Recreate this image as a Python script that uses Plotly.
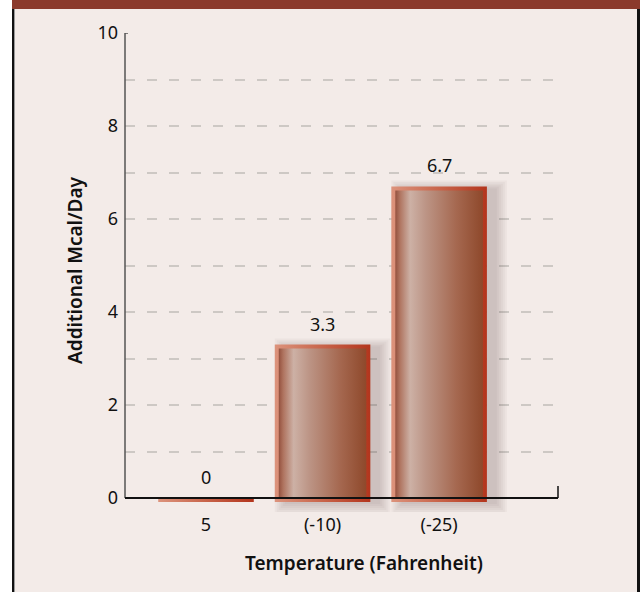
import plotly.graph_objects as go

# ---- data ----
categories = ["5", "(-10)", "(-25)"]
values = [0, 3.3, 6.7]
value_labels = ["0", "3.3", "6.7"]
y_tick_values = [0, 1, 2, 3, 4, 5, 6, 7, 8, 9, 10]
y_tick_labels = ["0", "", "2", "", "4", "", "6", "", "8", "", "10"]
x_title = "Temperature (Fahrenheit)"
y_title = "Additional Mcal/Day"

# ---- layout geometry ----
W, H = 640, 592
ML, MR, MT = 125, 82, 33
X_RANGE = [-0.695, 3.02]
Y_RANGE = [-0.3, 10]
PLOT_W = W - ML - MR
PX_X = PLOT_W / (X_RANGE[1] - X_RANGE[0])
PX_Y = 46.5
PLOT_H = PX_Y * (Y_RANGE[1] - Y_RANGE[0])
MB = H - MT - PLOT_H
BOTTOM = MT + PLOT_H

FONT = "Noto Sans"
BG = "#f3ebe8"
TXT = "#111111"


def px2paper_x(px):
    return (px - ML) / PLOT_W


def px2paper_y(py):
    return (BOTTOM - py) / PLOT_H


HW = 0.41                 # half bar width (data units)
INS_X = 4 / PX_X          # border inset
INS_Y = 4 / PX_Y

border_scale = [[0, "#dc937c"], [0.5, "#c8644a"], [1, "#b3351d"]]
inner_scale = [[0, "rgba(140,74,56,0.9)"], [0.05, "rgba(170,112,92,0.9)"],
               [0.17, "rgba(204,182,172,0.9)"], [0.35, "rgba(186,152,138,0.9)"],
               [0.7, "rgba(162,106,82,0.9)"], [1, "rgba(139,74,44,0.92)"]]

fig = go.Figure()


def rect(x0, x1, y0, y1):
    return [x0, x1, x1, x0, x0], [y0, y0, y1, y1, y0]

# shadows (offset to the right)
for i, v in enumerate(values):
    if v <= 0:
        continue
    ox, oy = 10 / PX_X, -2 / PX_Y
    for e in [0, 2, 4, 6, 8, 10]:
        ex, ey = e / PX_X, e / PX_Y
        xs, ys = rect(i - HW + ox - ex, i + HW + ox + ex, -INS_Y + oy - ey, v + oy + ey * 0.8)
        fig.add_trace(go.Scatter(x=xs, y=ys, fill="toself", mode="lines",
                                 line=dict(width=0), fillcolor="rgba(70,55,50,0.04)",
                                 hoverinfo="skip", showlegend=False))

# bars: border + inner gradient
for i, v in enumerate(values):
    xs, ys = rect(i - HW, i + HW, -INS_Y, v)
    fig.add_trace(go.Scatter(x=xs, y=ys, fill="toself", mode="lines",
                             line=dict(width=0),
                             fillgradient=dict(type="horizontal", colorscale=border_scale),
                             hoverinfo="skip", showlegend=False))
    if v > INS_Y:
        xs, ys = rect(i - HW + INS_X, i + HW - INS_X, 0, v - INS_Y)
        fig.add_trace(go.Scatter(x=xs, y=ys, fill="toself", mode="lines",
                                 line=dict(width=0),
                                 fillgradient=dict(type="horizontal", colorscale=inner_scale),
                                 hoverinfo="skip", showlegend=False))

# value labels
for i, (v, t) in enumerate(zip(values, value_labels)):
    fig.add_annotation(x=i, y=v, text=t, showarrow=False, yshift=21,
                       xanchor="center", yanchor="middle",
                       font=dict(family=FONT, size=18, color=TXT))

# axis titles
fig.add_annotation(xref="paper", yref="paper", x=px2paper_x(364), y=px2paper_y(563),
                   xanchor="center", yanchor="middle",
                   text=x_title, showarrow=False,
                   font=dict(family=FONT, size=19, color=TXT, weight=600))
fig.add_annotation(xref="paper", yref="paper", x=px2paper_x(75), y=px2paper_y(270),
                   xanchor="center", yanchor="middle",
                   text=y_title, showarrow=False, textangle=-90,
                   font=dict(family=FONT, size=19, color=TXT, weight=600))

shapes = []
# frame: white strip, header, borders
shapes.append(dict(type="rect", xref="paper", yref="paper", x0=px2paper_x(0), x1=px2paper_x(12),
                   y0=px2paper_y(0), y1=px2paper_y(H), fillcolor="white", line=dict(width=0)))
shapes.append(dict(type="rect", xref="paper", yref="paper", x0=px2paper_x(12), x1=px2paper_x(W),
                   y0=px2paper_y(0), y1=px2paper_y(9), fillcolor="#8b3a2c", line=dict(width=0)))
shapes.append(dict(type="rect", xref="paper", yref="paper", x0=px2paper_x(12), x1=px2paper_x(14),
                   y0=px2paper_y(9), y1=px2paper_y(H), fillcolor="#111111", line=dict(width=0)))
shapes.append(dict(type="rect", xref="paper", yref="paper", x0=px2paper_x(14), x1=px2paper_x(15),
                   y0=px2paper_y(9), y1=px2paper_y(H), fillcolor="#9a9a9a", line=dict(width=0)))
shapes.append(dict(type="rect", xref="paper", yref="paper", x0=px2paper_x(637), x1=px2paper_x(W),
                   y0=px2paper_y(9), y1=px2paper_y(H), fillcolor="#111111", line=dict(width=0)))
# axes lines
shapes.append(dict(type="line", xref="paper", yref="y", x0=0, x1=0, y0=0, y1=10,
                   line=dict(color="#555555", width=1.5), layer="above"))
shapes.append(dict(type="line", xref="paper", yref="y", x0=0, x1=px2paper_x(128), y0=10, y1=10,
                   line=dict(color="#555555", width=1.5), layer="above"))
shapes.append(dict(type="line", xref="paper", yref="y", x0=0, x1=1, y0=0, y1=0,
                   line=dict(color="#111111", width=2), layer="above"))
shapes.append(dict(type="line", xref="paper", yref="y", x0=1, x1=1, y0=0, y1=12 / PX_Y,
                   line=dict(color="#111111", width=1.5), layer="above"))

fig.update_layout(
    width=W, height=H,
    margin=dict(l=ML, r=MR, t=MT, b=MB, pad=0),
    paper_bgcolor=BG, plot_bgcolor=BG,
    shapes=shapes,
    showlegend=False,
    font=dict(family=FONT, size=18, color=TXT),
    xaxis=dict(range=X_RANGE, tickvals=[0, 1, 2], ticktext=categories, showgrid=False,
               zeroline=False, showline=False, ticks="", fixedrange=True,
               tickfont=dict(family=FONT, size=18, color=TXT)),
    yaxis=dict(range=Y_RANGE, tickvals=y_tick_values, ticktext=y_tick_labels,
               showgrid=True, gridcolor="#cdc8c4", gridwidth=1.5, griddash="10px,12px",
               zeroline=False, showline=False, ticks="", ticklabelstandoff=6,
               fixedrange=True, tickfont=dict(family=FONT, size=18, color=TXT)),
)

fig.write_html("out.html")
